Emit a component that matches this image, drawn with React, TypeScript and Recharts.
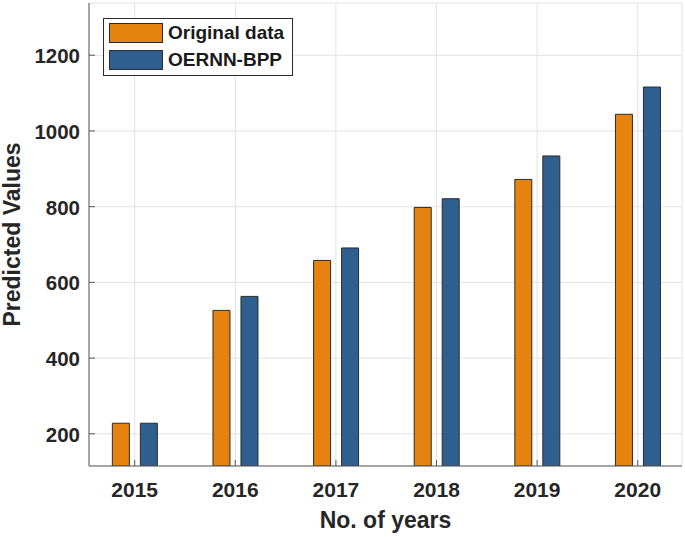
import React from "react";
import {
  BarChart,
  Bar,
  XAxis,
  YAxis,
  CartesianGrid,
  Legend,
  Label,
} from "recharts";

const years = [2015, 2016, 2017, 2018, 2019, 2020];
const originalData = [228, 526, 658, 798, 872, 1044];
const oernnBpp = [228, 563, 691, 821, 934, 1116];
const yTicks = [200, 400, 600, 800, 1000, 1200];

const data = years.map((year, i) => ({
  year,
  original: originalData[i],
  oernn: oernnBpp[i],
}));

const FONT = "'Liberation Sans', Arial, Helvetica, sans-serif";
const TEXT = "#262626";
const AXIS = "#5a5a5a";
const ORANGE = "#e6830f";
const BLUE = "#2f5f8f";
const EDGE = "#2b2b2b";

const BottomTick = ({ x, y, payload }: any) => (
  <g>
    <line x1={x} x2={x} y1={y} y2={y - 6} stroke={AXIS} />
    <text
      x={x}
      y={y + 31}
      textAnchor="middle"
      fontFamily={FONT}
      fontWeight="bold"
      fontSize={21}
      fill={TEXT}
    >
      {payload.value}
    </text>
  </g>
);

const LeftTick = ({ x, y, payload }: any) => (
  <g>
    <line x1={x} x2={x + 6} y1={y} y2={y} stroke={AXIS} />
    <text
      x={x - 9}
      y={y + 8}
      textAnchor="end"
      fontFamily={FONT}
      fontWeight="bold"
      fontSize={20.5}
      fill={TEXT}
    >
      {payload.value}
    </text>
  </g>
);

const TopTick = ({ x, y }: any) => (
  <line x1={x} x2={x} y1={y} y2={y + 6} stroke={AXIS} />
);

const RightTick = ({ x, y }: any) => (
  <line x1={x} x2={x - 6} y1={y} y2={y} stroke={AXIS} />
);

const YLabel = ({ viewBox }: any) => {
  const x = viewBox.x + 20;
  const y = viewBox.y + viewBox.height / 2;
  return (
    <text
      x={x}
      y={y}
      transform={`rotate(-90, ${x}, ${y})`}
      textAnchor="middle"
      fontFamily={FONT}
      fontWeight="bold"
      fontSize={23}
      fill={TEXT}
    >
      Predicted Values
    </text>
  );
};

const XLabel = ({ viewBox }: any) => (
  <text
    x={viewBox.x + viewBox.width / 2}
    y={viewBox.y + 62}
    textAnchor="middle"
    fontFamily={FONT}
    fontWeight="bold"
    fontSize={23}
    fill={TEXT}
  >
    No. of years
  </text>
);

const legendItems = [
  { name: "Original data", color: ORANGE },
  { name: "OERNN-BPP", color: BLUE },
];

const LegendBox = () => (
  <div
    style={{
      width: 190,
      height: 58,
      boxSizing: "border-box",
      border: `1px solid ${EDGE}`,
      background: "#fff",
      padding: "4px 5px",
    }}
  >
    {legendItems.map((item, i) => (
      <div
        key={item.name}
        style={{
          display: "flex",
          alignItems: "center",
          height: 20,
          marginTop: i === 0 ? 0 : 7,
        }}
      >
        <div
          style={{
            width: 54,
            height: 20,
            boxSizing: "border-box",
            background: item.color,
            border: `1px solid ${EDGE}`,
          }}
        />
        <span
          style={{
            marginLeft: 5,
            fontFamily: FONT,
            fontWeight: "bold",
            fontSize: 19,
            color: "#1a1a1a",
            whiteSpace: "nowrap",
          }}
        >
          {item.name}
        </span>
      </div>
    ))}
  </div>
);

export default function App() {
  return (
    <div style={{ position: "absolute", left: 0, top: 0, background: "#fff" }}>
      <BarChart
        width={685}
        height={537}
        data={data}
        margin={{ top: 3, right: 3, left: 0, bottom: 0 }}
        barSize={17}
        barGap={11}
      >
        <CartesianGrid stroke="#e2e2e2" />
        <XAxis
          dataKey="year"
          type="number"
          domain={[2014.546, 2020.44]}
          ticks={years}
          allowDataOverflow
          height={71}
          stroke={AXIS}
          tickSize={0}
          tickMargin={0}
          tick={<BottomTick />}
          interval={0}
        >
          <Label content={<XLabel />} />
        </XAxis>
        <XAxis
          xAxisId="top"
          orientation="top"
          dataKey="year"
          type="number"
          domain={[2014.546, 2020.44]}
          ticks={years}
          allowDataOverflow
          height={0}
          stroke={AXIS}
          tickSize={0}
          tickMargin={0}
          tick={<TopTick />}
          interval={0}
        />
        <YAxis
          type="number"
          domain={[115, 1338]}
          ticks={yTicks}
          allowDataOverflow
          width={89}
          stroke={AXIS}
          tickSize={0}
          tickMargin={0}
          tick={<LeftTick />}
          interval={0}
        >
          <Label content={<YLabel />} />
        </YAxis>
        <YAxis
          yAxisId="right"
          orientation="right"
          type="number"
          domain={[115, 1338]}
          ticks={yTicks}
          allowDataOverflow
          width={0}
          stroke={AXIS}
          tickSize={0}
          tickMargin={0}
          tick={<RightTick />}
          interval={0}
        />
        <Legend
          layout="horizontal"
          verticalAlign="middle"
          align="center"
          content={<LegendBox />}
          wrapperStyle={{ left: 103, top: 18, width: 190, height: 58 }}
        />
        <Bar
          dataKey="original"
          name="Original data"
          fill={ORANGE}
          stroke={EDGE}
          strokeWidth={1}
          isAnimationActive={false}
        />
        <Bar
          dataKey="oernn"
          name="OERNN-BPP"
          fill={BLUE}
          stroke={EDGE}
          strokeWidth={1}
          isAnimationActive={false}
        />
      </BarChart>
    </div>
  );
}
